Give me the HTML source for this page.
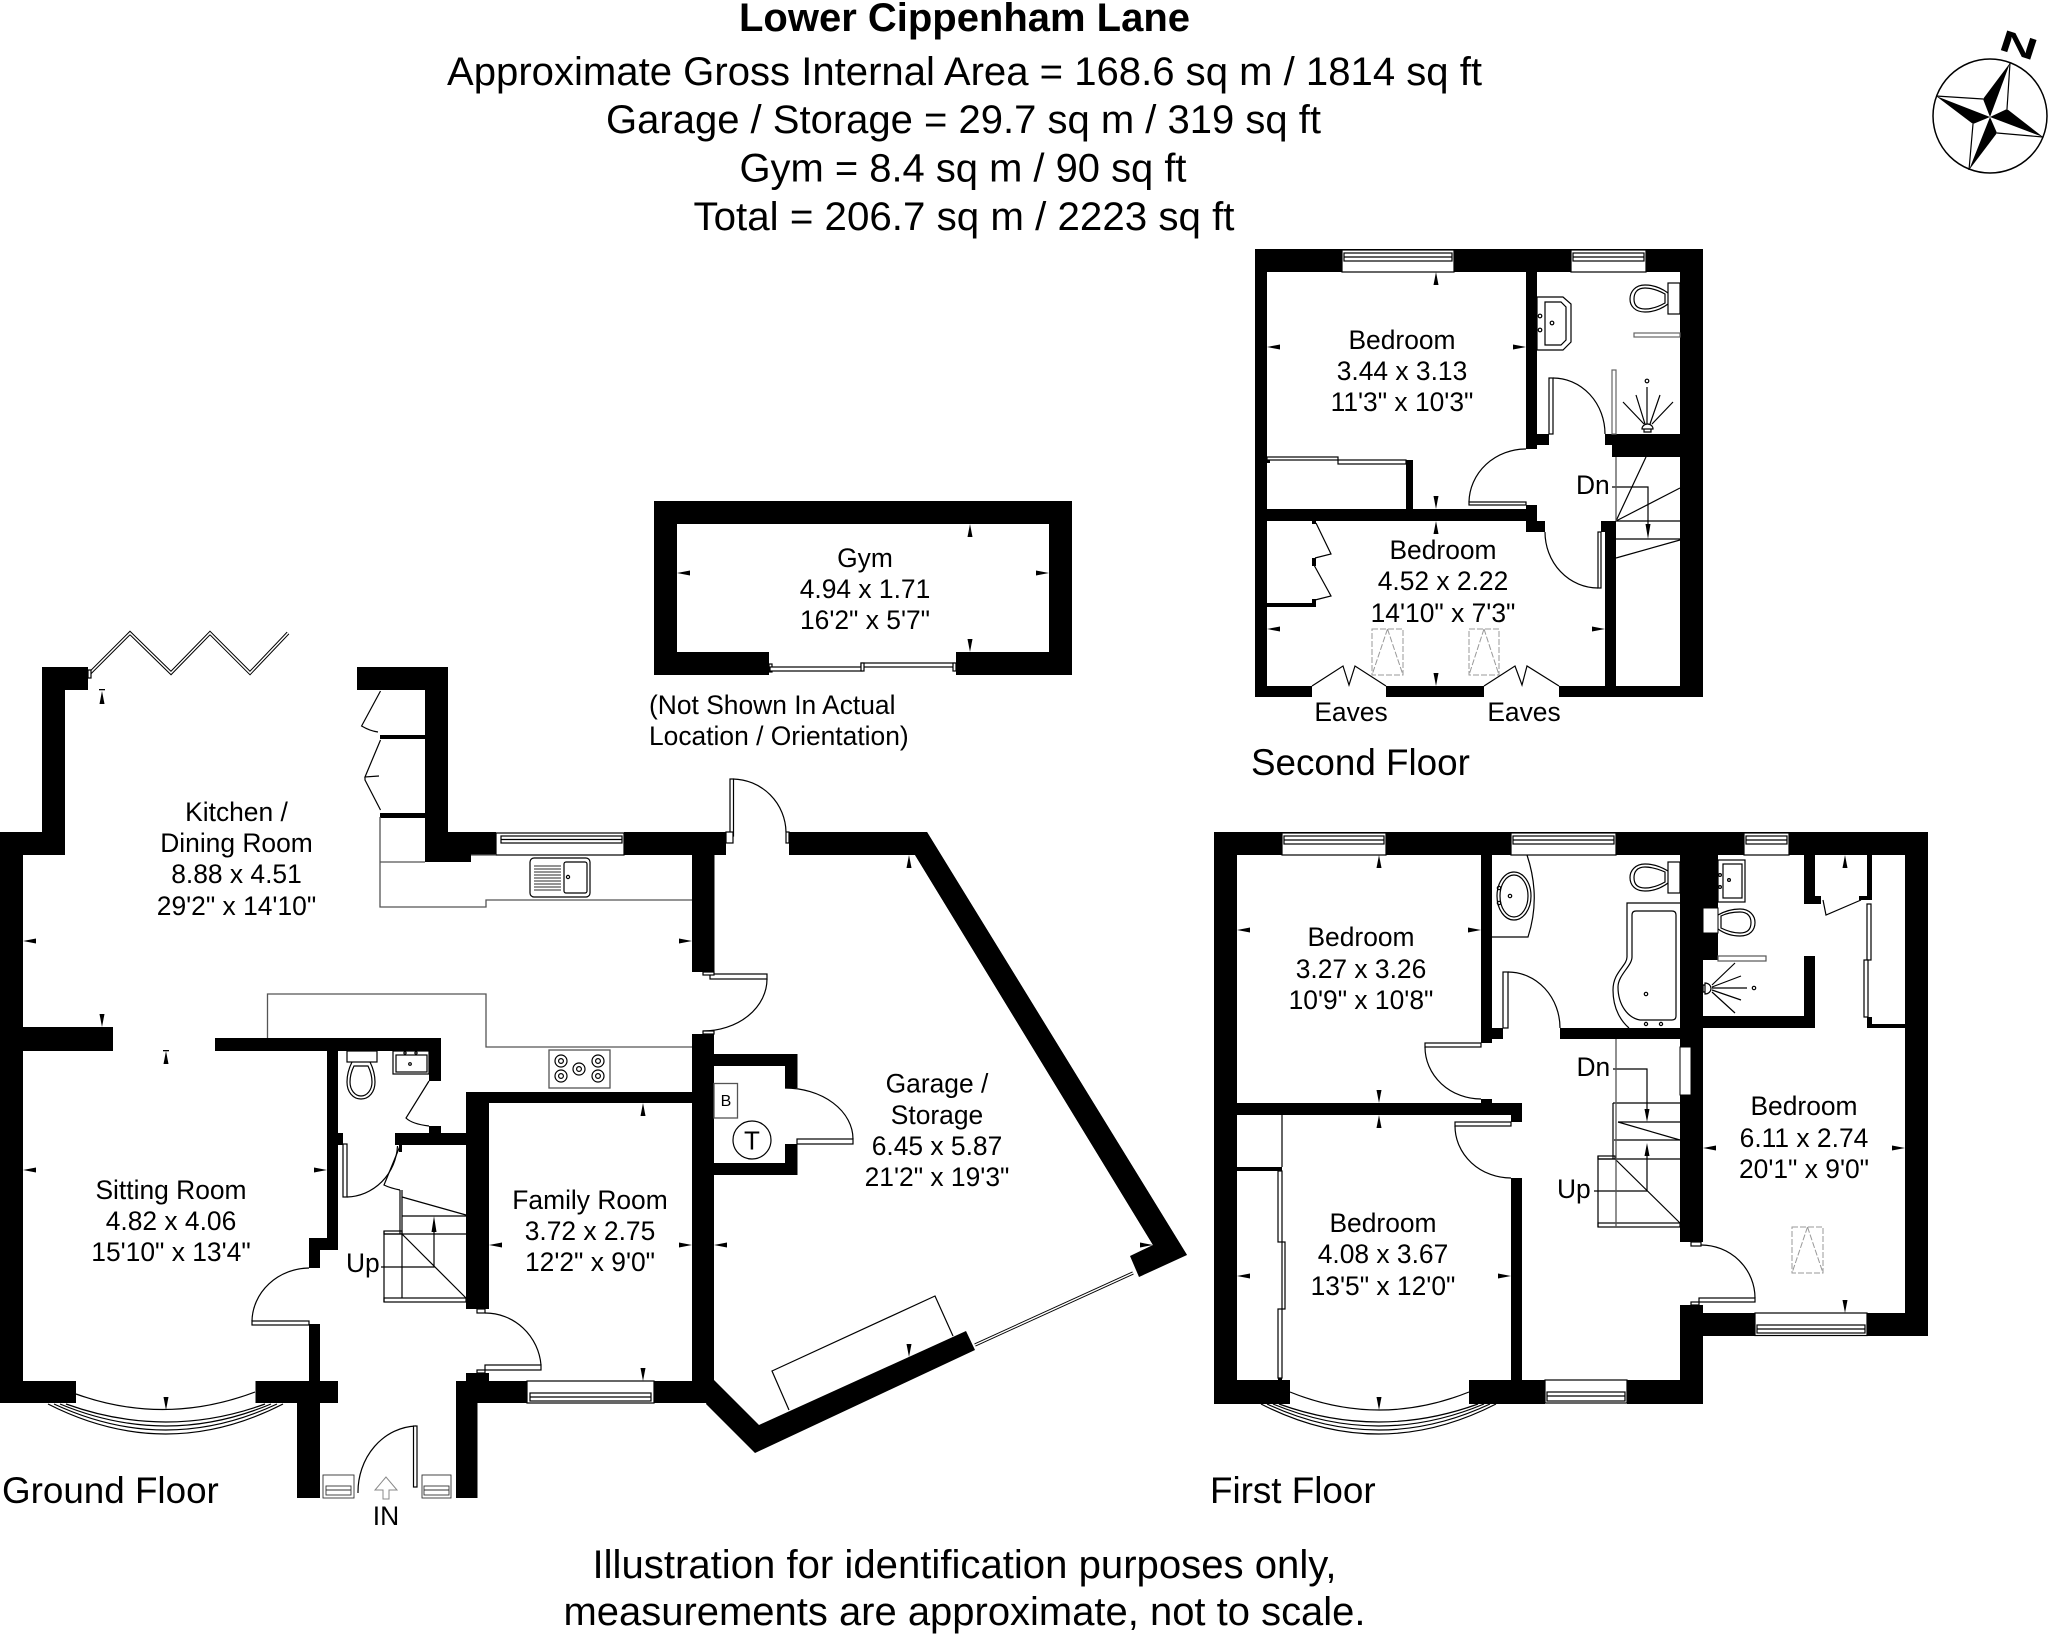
<!DOCTYPE html>
<html><head><meta charset="utf-8"><title>Lower Cippenham Lane</title>
<style>
html,body{margin:0;padding:0;background:#fff}
svg{display:block}
text{font-family:"Liberation Sans",Arial,sans-serif;fill:#000}
.l{font-size:26.4px;text-anchor:middle}
.s{font-size:26.4px}
.h{font-size:40px;text-anchor:middle}
.f{font-size:36.8px}
.t{fill:none;stroke:#000;stroke-width:1.2}
.g{fill:none;stroke:#555;stroke-width:1.3}
.d{fill:#fff;stroke:#000;stroke-width:1.2}
.sk{fill:none;stroke:#999;stroke-width:1;stroke-dasharray:6 2}
</style></head><body>
<svg xmlns="http://www.w3.org/2000/svg" width="2048" height="1635" viewBox="0 0 2048 1635">
<defs>
<polygon id="au" points="0,0 -2.5,13 2.5,13"/>
<polygon id="ad" points="0,0 -2.5,-13 2.5,-13"/>
<polygon id="al" points="0,0 13,-2.5 13,2.5"/>
<polygon id="ar" points="0,0 -13,-2.5 -13,2.5"/>
</defs>
<rect width="2048" height="1635" fill="#fff"/>

<!-- Header -->
<text x="964.5" y="31" class="h" font-weight="bold" textLength="451" lengthAdjust="spacingAndGlyphs">Lower Cippenham Lane</text>
<text x="964.5" y="85" class="h" textLength="1035" lengthAdjust="spacingAndGlyphs">Approximate Gross Internal Area = 168.6 sq m / 1814 sq ft</text>
<text x="963.5" y="133" class="h" textLength="715" lengthAdjust="spacingAndGlyphs">Garage / Storage = 29.7 sq m / 319 sq ft</text>
<text x="963" y="181.5" class="h" textLength="447" lengthAdjust="spacingAndGlyphs">Gym = 8.4 sq m / 90 sq ft</text>
<text x="964" y="230" class="h" textLength="541" lengthAdjust="spacingAndGlyphs">Total = 206.7 sq m / 2223 sq ft</text>

<!-- Compass -->
<circle cx="1990" cy="116" r="57" fill="none" stroke="#000" stroke-width="1.5"/>
<g fill="none" stroke="#000" stroke-width="1.2">
<polyline points="2010,63 2007,109"/><polyline points="2043,137 1997,133"/><polyline points="1969,170 1973,124"/><polyline points="1936,96 1983,99"/>
</g>
<polygon points="2010,63 1983,99 1990,117"/><polygon points="2043,137 2007,109 1990,117"/><polygon points="1969,170 1997,133 1990,117"/><polygon points="1936,96 1973,124 1990,117"/>
<text transform="translate(2019 45) rotate(18) scale(1.75 1) translate(-11 10.5)" font-size="30" font-weight="bold">N</text>

<!-- WALLS -->
<g fill="#000">
<!-- Ground -->
<rect x="0" y="832" width="23" height="571"/><rect x="0" y="832" width="65" height="23"/><rect x="42" y="667" width="23" height="188"/><rect x="42" y="667" width="46" height="23"/>
<rect x="357" y="667" width="91" height="23"/><rect x="425" y="667" width="23" height="195"/><rect x="425" y="832" width="71" height="23"/><rect x="425" y="855" width="46" height="7"/>
<rect x="624" y="832" width="102" height="23"/><rect x="692" y="832" width="22.5" height="140"/>
<rect x="380" y="735" width="45" height="4"/><rect x="380" y="813" width="45" height="5"/>
<rect x="0" y="1027" width="113" height="24"/><rect x="215" y="1038" width="226" height="13"/><rect x="429" y="1038" width="12" height="43"/>
<rect x="327" y="1038" width="11" height="212"/><rect x="309" y="1238" width="29" height="12"/><rect x="309" y="1238" width="11" height="30"/>
<rect x="331" y="1133" width="12" height="12"/><rect x="395" y="1133" width="71" height="12"/><rect x="429" y="1126" width="12" height="8"/>
<rect x="466" y="1092" width="23" height="217"/><rect x="466" y="1092" width="226" height="11"/><rect x="466" y="1373" width="23" height="8"/>
<rect x="692" y="1034" width="22" height="350"/>
<rect x="309" y="1324" width="11" height="57"/>
<rect x="0" y="1381" width="76" height="22"/><rect x="255.5" y="1381" width="82.5" height="22"/><rect x="297" y="1381" width="23" height="117"/>
<rect x="456" y="1381" width="71" height="22"/><rect x="456" y="1381" width="21.5" height="117"/><rect x="654" y="1381" width="60" height="22"/>
<!-- Cupboard -->
<rect x="714" y="1054" width="83.5" height="12"/><rect x="785" y="1054" width="12.5" height="34"/><rect x="785" y="1144" width="12.5" height="31"/><rect x="714" y="1163" width="83.5" height="12"/>
<!-- Garage -->
<rect x="789" y="832" width="138" height="23"/>
<polygon points="915,855 927,832 1187,1255 1139,1277 1130,1256 1153,1245"/>
<polygon points="915,855 927,832 1187,1255 1153,1245"/>
<polygon points="975,1350 966,1331 759,1425 714,1380 706,1404 755,1453"/>
<!-- Gym -->
<rect x="654" y="501" width="418" height="23"/><rect x="654" y="501" width="23" height="174"/><rect x="1049" y="501" width="23" height="174"/>
<rect x="654" y="652" width="115" height="23"/><rect x="956" y="652" width="116" height="23"/>
<!-- Second -->
<rect x="1255" y="249" width="448" height="23"/><rect x="1255" y="249" width="12" height="448"/><rect x="1680" y="249" width="23" height="448"/>
<rect x="1255" y="686" width="57" height="11"/><rect x="1386" y="686" width="98" height="11"/><rect x="1559" y="686" width="144" height="11"/>
<rect x="1526" y="272" width="11" height="177"/><rect x="1537" y="434" width="12" height="11"/><rect x="1605" y="434" width="75" height="11"/><rect x="1612" y="445" width="68" height="12"/>
<rect x="1267" y="509" width="270" height="12"/><rect x="1526" y="505" width="11" height="16"/><rect x="1526" y="521" width="19" height="11"/>
<rect x="1601" y="521" width="15" height="11"/><rect x="1605" y="521" width="11" height="165"/>
<rect x="1406" y="460" width="7" height="49"/><rect x="1267" y="603" width="48" height="4"/><rect x="1312" y="599" width="4" height="8"/><rect x="1312" y="558" width="4" height="8"/><rect x="1312" y="521" width="4" height="3"/><rect x="1267" y="460" width="3" height="3"/>
<!-- First -->
<rect x="1214" y="832" width="714" height="23"/><rect x="1214" y="832" width="23" height="572"/><rect x="1905" y="832" width="23" height="504"/>
<rect x="1703" y="1313" width="225" height="23"/>
<rect x="1214" y="1380" width="76" height="24"/><rect x="1469" y="1380" width="76" height="24"/><rect x="1627" y="1380" width="76" height="24"/>
<rect x="1680" y="1305" width="23" height="99"/><rect x="1680" y="832" width="23" height="410"/><rect x="1680" y="855" width="38" height="105"/>
<rect x="1481" y="855" width="11" height="188"/><rect x="1492" y="1028" width="11" height="11"/><rect x="1560" y="1028" width="120" height="11"/>
<rect x="1237" y="1103" width="285" height="12"/><rect x="1511" y="1103" width="11" height="19"/><rect x="1481" y="1099" width="11" height="4"/>
<rect x="1511" y="1178" width="11" height="202"/><rect x="1237" y="1167" width="45" height="4"/>
<rect x="1703" y="1016" width="112" height="12"/><rect x="1804" y="956" width="11" height="72"/><rect x="1804" y="855" width="11" height="49"/><rect x="1804" y="896" width="17" height="8"/>
<rect x="1867" y="855" width="5" height="45"/><rect x="1859" y="896" width="13" height="4"/><rect x="1867" y="1017" width="5" height="11"/><rect x="1867" y="1024" width="38" height="4"/>
</g>

<!-- WINDOWS -->
<g class="d">
<g fill="#fff" stroke="#000" stroke-width="1.2">
<rect x="496" y="833" width="128" height="22"/><rect x="501" y="836" width="121" height="7"/><line x1="501" y1="839.5" x2="622" y2="839.5"/>
<rect x="1342" y="250" width="112" height="22"/><rect x="1344" y="253" width="108" height="8"/><line x1="1344" y1="257" x2="1452" y2="257"/>
<rect x="1571" y="250" width="75" height="22"/><rect x="1573" y="253" width="71" height="8"/><line x1="1573" y1="257" x2="1644" y2="257"/>
<rect x="1282" y="833" width="104" height="22"/><rect x="1284" y="836" width="100" height="8"/><line x1="1284" y1="840" x2="1384" y2="840"/>
<rect x="1511" y="833" width="105" height="22"/><rect x="1513" y="836" width="101" height="8"/><line x1="1513" y1="840" x2="1614" y2="840"/>
<rect x="1744" y="833" width="45" height="22"/><rect x="1746" y="836" width="41" height="8"/><line x1="1746" y1="840" x2="1787" y2="840"/>
<rect x="527" y="1381" width="127" height="22"/><rect x="530" y="1393" width="121" height="8"/><line x1="530" y1="1397" x2="651" y2="1397"/>
<rect x="1755" y="1313" width="112" height="22.5"/><rect x="1757" y="1325" width="108" height="8"/><line x1="1757" y1="1329" x2="1865" y2="1329"/>
<rect x="1545" y="1380" width="82" height="23"/><rect x="1547" y="1392" width="78" height="9"/><line x1="1547" y1="1396" x2="1625" y2="1396"/>
</g>
<g fill="#fff" stroke="#333" stroke-width="0.9">
<rect x="323" y="1475" width="31" height="23"/><rect x="326" y="1486" width="25" height="9"/><line x1="326" y1="1490" x2="351" y2="1490"/>
<rect x="422" y="1475" width="29" height="23"/><rect x="424" y="1486" width="25" height="9"/><line x1="424" y1="1490" x2="449" y2="1490"/>
</g>
</g>
<rect x="1703" y="908" width="15" height="25" fill="#fff" stroke="#000" stroke-width="1"/>
<rect x="1680" y="1047" width="11" height="48" fill="#fff" stroke="#000" stroke-width="1"/>

<!-- BAY WINDOWS -->
<g class="t">
<path d="M76 1394Q165 1426 255 1392"/>
<path d="M48 1404Q166 1464 283 1404"/><path d="M54 1404Q166 1456 277 1404"/><path d="M60 1404Q166 1448 271 1404"/><path d="M66 1404Q166 1440 265 1404"/>
<path d="M1290 1392Q1379 1428 1469 1392"/>
<path d="M1261 1404Q1379 1464 1496 1404"/><path d="M1267 1404Q1379 1456 1490 1404"/><path d="M1273 1404Q1379 1448 1484 1404"/><path d="M1279 1404Q1379 1440 1478 1404"/>
</g>

<!-- Bi-fold door -->
<polyline points="90,673 130,633 171,673 210,633 250,673 288,633" fill="none" stroke="#000" stroke-width="3.5"/>
<polyline points="90,673 130,633 171,673 210,633 250,673 288,633" fill="none" stroke="#fff" stroke-width="1.5"/>
<rect x="88" y="670" width="3" height="8" class="d"/>

<!-- Ground floor doors -->
<g class="t">
<path d="M416 1426A60 66 0 0 0 358 1493"/>
<path d="M309 1268A58 54 0 0 0 252 1321"/>
<path d="M485 1313A56 57 0 0 1 541 1365"/>
<path d="M347 1197A52 54 0 0 0 397.5 1146"/>
<path d="M733 779A54 54 0 0 1 786 832"/>
<path d="M767 979A64 52 0 0 1 703 1031"/>
<path d="M785 1088A68 51 0 0 1 853 1139"/>
<path d="M429 1081L406 1118Q412 1124 429 1126"/>
<path d="M400 1146L384 1185Q390 1188 400 1190"/>
<path d="M380.5 691L361.6 726Q370 731 378 732"/>
<path d="M380.5 740L365 777L379 776M365 777L365 780L380.5 810"/>
</g>
<g class="d">
<rect x="413.5" y="1426" width="3.5" height="61"/>
<rect x="252" y="1321" width="57" height="4"/>
<rect x="485" y="1365" width="56" height="5"/><rect x="477" y="1370" width="8" height="3"/><rect x="477" y="1309" width="8" height="4"/>
<rect x="343" y="1144" width="4" height="53"/>
<rect x="730" y="779" width="3.5" height="57"/><rect x="726" y="832" width="7" height="11"/><rect x="786" y="832" width="3" height="11"/>
<rect x="710" y="974" width="57" height="5"/><rect x="703" y="972" width="11" height="3"/><rect x="703" y="1031" width="11" height="3"/>
<rect x="797" y="1139" width="56" height="5"/>
<rect x="769" y="664" width="3" height="8"/><rect x="770" y="667" width="92" height="4"/><rect x="861" y="663" width="94" height="4"/><rect x="861" y="663" width="3" height="8"/><rect x="953" y="663" width="3" height="8"/>
</g>
<rect x="399" y="1145" width="3" height="7"/>

<!-- Garage sliding door + storage -->
<polyline points="975,1345 1133,1273" fill="none" stroke="#000" stroke-width="3.2"/>
<polyline points="975,1345 1133,1273" fill="none" stroke="#fff" stroke-width="1.4"/>
<polyline points="789,1410 772,1371 935,1296 953,1336" class="t"/>

<!-- B / T -->
<rect x="714" y="1083.5" width="23.5" height="34.5" class="g" stroke-width="1"/>
<text x="726" y="1106" font-size="16" text-anchor="middle">B</text>
<circle cx="752" cy="1140" r="19" class="t"/>
<text x="752" y="1149.5" font-size="26" text-anchor="middle">T</text>

<!-- Kitchen counters -->
<g class="g">
<polyline points="380,817 380,907 486,907 486,900 692,900"/>
<line x1="380" y1="862" x2="425" y2="862"/>
<line x1="471" y1="855" x2="496" y2="855"/>
<polyline points="267.5,1038 267.5,994 486,994 486,1047 692,1047"/>
<rect x="549" y="1050" width="61" height="38"/>
</g>
<rect x="530" y="858" width="60" height="39" rx="4" class="t"/>
<rect x="564" y="862" width="23" height="31" rx="2" class="t"/>
<path d="M534 866H561M534 869H561M534 872H561M534 875H561M534 878H561M534 881H561M534 884H561M534 887H561M534 890H561" class="g" stroke-width="1"/>
<circle cx="568" cy="877" r="1.6" class="t"/>
<g class="t">
<circle cx="561" cy="1061" r="6"/><circle cx="561" cy="1061" r="2.4"/>
<circle cx="598" cy="1061" r="6"/><circle cx="598" cy="1061" r="2.4"/>
<circle cx="561" cy="1076" r="6"/><circle cx="561" cy="1076" r="2.4"/>
<circle cx="598" cy="1076" r="6"/><circle cx="598" cy="1076" r="2.4"/>
<circle cx="579" cy="1069" r="6"/><circle cx="579" cy="1069" r="2.4"/>
<!-- WC -->
<rect x="347" y="1051" width="30" height="11"/>
<path d="M352 1062C348 1070 347 1076 347 1082C347 1092 353 1099 361 1099C369 1099 375 1092 375 1082C375 1076 374 1070 370 1062"/>
<path d="M354 1066C351 1072 350 1077 350 1082C350 1090 355 1096 361 1096C367 1096 372 1090 372 1082C372 1077 371 1072 368 1066Z"/>
<rect x="393" y="1051" width="36" height="23"/>
<rect x="396" y="1055" width="31" height="17"/>
<circle cx="410" cy="1064" r="1.3"/><circle cx="405" cy="1053" r="1.1"/><circle cx="416" cy="1053" r="1.1"/>
</g>

<!-- Ground stairs -->
<g class="t">
<line x1="402" y1="1190" x2="402" y2="1298"/><line x1="400" y1="1190" x2="400" y2="1234"/>
<line x1="402" y1="1197" x2="466" y2="1215"/>
<line x1="402" y1="1216" x2="466" y2="1216"/>
<line x1="384" y1="1234" x2="466" y2="1234"/>
<rect x="384" y="1231" width="18" height="3"/>
<line x1="402" y1="1234" x2="466" y2="1298"/>
<line x1="384" y1="1231" x2="384" y2="1302"/>
<rect x="384" y="1298" width="82" height="4"/>
<path d="M381 1267H434V1222"/>
</g>
<polygon points="434,1216 431.5,1232 436.5,1232"/>

<!-- IN arrow -->
<path d="M386 1477L375 1490H383V1499H389V1490H397Z" fill="#fff" stroke="#888" stroke-width="1"/>

<!-- Second floor details -->
<g class="d">
<rect x="1267" y="457" width="71" height="3"/><rect x="1338" y="460" width="68" height="4"/>
<rect x="1549" y="378" width="4" height="56"/>
<rect x="1469" y="502" width="57" height="3"/>
<rect x="1598" y="532" width="3" height="56"/>
<rect x="1634" y="333" width="46" height="4" style="stroke:#666"/>
<rect x="1612" y="370" width="4" height="64" style="stroke:#666"/>
</g>
<g class="t">
<path d="M1553 378A52 56 0 0 1 1605 434"/>
<path d="M1526 449A57 54 0 0 0 1469 502"/>
<path d="M1545 532A53 56 0 0 0 1598 588"/>
<path d="M1316 523L1331 554L1315 558M1314 565L1331 596L1315 600"/>
<path d="M1312 686L1343 666L1349 685L1355 666L1386 686"/>
<path d="M1484 686L1515 666L1522 685L1527 666L1559 686"/>
<polygon points="1537,297 1563,297 1571,304 1571,342 1563,350 1537,350"/>
<polygon points="1545,302 1561,302 1566,307 1566,340 1561,345 1545,345"/>
<circle cx="1552" cy="323" r="1.8"/><circle cx="1540" cy="316" r="1.8"/><circle cx="1540" cy="330" r="1.8"/>
<rect x="1668" y="283" width="12" height="31"/>
<path d="M1668 293C1660 287 1652 285 1645 285C1635 285 1630 292 1630 299C1630 306 1635 312 1645 312C1652 312 1660 310 1668 304"/>
<path d="M1665 294C1658 290 1652 288 1645 288C1637 288 1634 293 1634 299C1634 305 1637 309 1645 309C1652 309 1658 307 1665 303Z"/>
<path d="M1623 402L1644 424M1636 395L1645 424M1647 387V424M1660 395L1650 424M1673 402L1652 424"/>
<path d="M1642 429A5.5 5 0 0 1 1653 429ZM1644 429V432H1651V429"/>
<circle cx="1647" cy="381" r="1.8"/>
<line x1="1616" y1="521" x2="1646" y2="457"/><line x1="1616" y1="521" x2="1680" y2="488"/>
<line x1="1616" y1="521" x2="1680" y2="521"/><line x1="1616" y1="539" x2="1680" y2="539"/>
<line x1="1616" y1="558" x2="1680" y2="540"/>
<path d="M1612 487H1648V530"/>
</g>
<line x1="1616" y1="457" x2="1616" y2="521" class="g"/>
<polygon points="1648,539 1645.5,524 1650.5,524"/>
<g class="sk">
<rect x="1372" y="629" width="31" height="46"/><path d="M1387.5 629L1372 675M1387.5 629L1403 675"/>
<rect x="1469" y="629" width="30" height="46"/><path d="M1484 629L1469 675M1484 629L1499 675"/>
<rect x="1792" y="1227" width="31" height="46"/><path d="M1807.5 1227L1792 1273M1807.5 1227L1823 1273"/>
</g>

<!-- First floor details -->
<g class="d">
<rect x="1503" y="972" width="5" height="56"/>
<rect x="1425" y="1043" width="56" height="4"/>
<rect x="1455" y="1122" width="56" height="4"/>
<rect x="1699" y="1298" width="56" height="4"/><rect x="1691" y="1302" width="8" height="3"/><rect x="1691" y="1242" width="10" height="4"/>
<rect x="1278" y="1171" width="4" height="71"/><rect x="1282" y="1242" width="3" height="67"/><rect x="1278" y="1309" width="4" height="69"/>
<rect x="1867" y="904" width="4" height="56"/><rect x="1864" y="960" width="4" height="57"/>
<rect x="1718" y="956" width="48" height="5" style="stroke:#555"/>
</g>
<rect x="1278" y="1378" width="4" height="3"/>
<g class="t">
<path d="M1508 972A52 56 0 0 1 1560 1028"/>
<path d="M1425 1047A56 52 0 0 0 1481 1099"/>
<path d="M1455 1126A56 52 0 0 0 1511 1178"/>
<path d="M1701 1245A54 53 0 0 1 1755 1298"/>
<line x1="1282" y1="1115" x2="1282" y2="1167"/>
<path d="M1527 855Q1541 897 1528 937H1492"/>
<ellipse cx="1514" cy="896" rx="17" ry="24"/><ellipse cx="1514" cy="896" rx="14" ry="21"/>
<circle cx="1510" cy="896" r="1.7"/><circle cx="1499" cy="888" r="1.7"/><circle cx="1499" cy="903" r="1.7"/>
<rect x="1668" y="862" width="12" height="31"/>
<path d="M1668 871C1660 866 1652 864 1645 864C1635 864 1630 871 1630 877.5C1630 885 1635 891 1645 891C1652 891 1660 889 1668 883"/>
<path d="M1665 872C1658 869 1652 867 1645 867C1637 867 1634 872 1634 877.5C1634 884 1637 888 1645 888C1652 888 1658 886 1665 882Z"/>
<path d="M1636 911H1672Q1676 911 1676 915V1016Q1676 1020 1672 1020H1640C1628 1018 1618 1005 1618 987C1618 975 1632 966 1632 957V915Q1632 911 1636 911Z"/>
<path d="M1680 903H1627V957C1627 966 1613 972 1613 990C1613 1010 1622 1022 1629 1028"/>
<circle cx="1646" cy="994" r="1.7"/><circle cx="1646" cy="1024" r="1.6"/><circle cx="1661" cy="1024" r="1.6"/>
<rect x="1718" y="860" width="27" height="42"/><rect x="1723" y="864" width="19" height="34"/>
<circle cx="1729" cy="880" r="1.4"/><circle cx="1720" cy="875" r="1.4"/><circle cx="1720" cy="887" r="1.4"/>
<path d="M1718 915C1725 911 1733 909 1740 909C1750 909 1755 916 1755 922.5C1755 930 1750 936 1740 936C1733 936 1725 934 1718 929"/>
<path d="M1721 916C1727 913 1733 912 1740 912C1748 912 1751 917 1751 922.5C1751 929 1748 933 1740 933C1733 933 1727 931 1721 928Z"/>
<path d="M1705 983A6 5.5 0 0 1 1705 994ZM1705 985H1703V992H1705"/>
<path d="M1735 963L1712 985M1741 976L1712 987M1747 988H1712M1741 1000L1712 990M1735 1013L1712 992"/>
<circle cx="1754" cy="988" r="1.7"/>
<path d="M1823 900L1826 915L1861 900"/>
<line x1="1613" y1="1103" x2="1680" y2="1103"/>
<line x1="1618" y1="1122" x2="1680" y2="1122"/>
<line x1="1618" y1="1122" x2="1680" y2="1140"/>
<line x1="1614" y1="1140" x2="1680" y2="1140"/>
<line x1="1598" y1="1159" x2="1680" y2="1159"/>
<rect x="1598" y="1156" width="17" height="3"/>
<line x1="1615" y1="1159" x2="1680" y2="1223"/>
<line x1="1598" y1="1156" x2="1598" y2="1227"/>
<rect x="1598" y="1223" width="82" height="4"/>
<path d="M1594 1191H1647V1150"/>
<path d="M1613 1069H1647V1114"/>
<line x1="1613" y1="1103" x2="1613" y2="1159"/>
</g>
<line x1="1616" y1="1039" x2="1616" y2="1227" class="g"/>
<polygon points="1647,1143 1644.5,1156 1649.5,1156"/>
<polygon points="1647,1122 1644.5,1109 1649.5,1109"/>

<!-- Dimension markers -->
<g fill="#000">
<use href="#au" x="102" y="691"/><rect x="99" y="689" width="6" height="1.3"/>
<use href="#al" x="23" y="941"/><use href="#ar" x="692" y="941"/><use href="#ad" x="102" y="1027"/>
<use href="#au" x="166" y="1051"/><rect x="163" y="1050" width="6" height="1.3"/>
<use href="#al" x="23" y="1170"/><use href="#ar" x="327" y="1170"/><use href="#ad" x="166" y="1410"/>
<use href="#au" x="643" y="1103"/><use href="#al" x="489" y="1245"/><use href="#ar" x="692" y="1245"/><use href="#ad" x="643" y="1381"/>
<use href="#au" x="909" y="855"/><use href="#al" x="714" y="1245"/><use href="#ar" x="1153" y="1245"/><use href="#ad" x="909" y="1357"/>
<use href="#au" x="970" y="524"/><use href="#al" x="677" y="573"/><use href="#ar" x="1049" y="573"/><use href="#ad" x="970" y="652"/>
<use href="#au" x="1436" y="272"/><use href="#al" x="1267" y="347"/><use href="#ar" x="1526" y="347"/><use href="#ad" x="1436" y="509"/>
<use href="#au" x="1436" y="521"/><use href="#al" x="1267" y="629"/><use href="#ar" x="1605" y="629"/><use href="#ad" x="1436" y="686"/>
<use href="#au" x="1379" y="855"/><use href="#al" x="1237" y="930"/><use href="#ar" x="1481" y="930"/><use href="#ad" x="1379" y="1103"/>
<use href="#au" x="1379" y="1115"/><use href="#al" x="1237" y="1276"/><use href="#ar" x="1511" y="1276"/><use href="#ad" x="1379" y="1410"/>
<use href="#au" x="1845" y="855"/><use href="#al" x="1703" y="1148"/><use href="#ar" x="1905" y="1148"/><use href="#ad" x="1845" y="1313"/>
</g>

<!-- LABELS -->
<text class="l" x="236.5" y="821">Kitchen /</text><text class="l" x="236.5" y="852">Dining Room</text><text class="l" x="236.5" y="883">8.88 x 4.51</text><text class="l" x="236.5" y="915">29'2" x 14'10"</text>
<text class="l" x="171" y="1199">Sitting Room</text><text class="l" x="171" y="1230">4.82 x 4.06</text><text class="l" x="171" y="1261">15'10" x 13'4"</text>
<text class="l" x="590" y="1209">Family Room</text><text class="l" x="590" y="1240">3.72 x 2.75</text><text class="l" x="590" y="1271">12'2" x 9'0"</text>
<text class="l" x="937" y="1092.5">Garage /</text><text class="l" x="937" y="1124">Storage</text><text class="l" x="937" y="1155">6.45 x 5.87</text><text class="l" x="937" y="1186">21'2" x 19'3"</text>
<text class="l" x="865" y="567">Gym</text><text class="l" x="865" y="598">4.94 x 1.71</text><text class="l" x="865" y="629">16'2" x 5'7"</text>
<text class="s" x="649" y="714">(Not Shown In Actual</text><text class="s" x="649" y="745">Location / Orientation)</text>
<text class="l" x="1402" y="349">Bedroom</text><text class="l" x="1402" y="380">3.44 x 3.13</text><text class="l" x="1402" y="411">11'3" x 10'3"</text>
<text class="l" x="1443" y="559">Bedroom</text><text class="l" x="1443" y="590">4.52 x 2.22</text><text class="l" x="1443" y="622">14'10" x 7'3"</text>
<text class="l" x="1351" y="721">Eaves</text><text class="l" x="1524" y="721">Eaves</text>
<text class="s" x="1576" y="494">Dn</text>
<text class="l" x="1361" y="946">Bedroom</text><text class="l" x="1361" y="978">3.27 x 3.26</text><text class="l" x="1361" y="1009">10'9" x 10'8"</text>
<text class="l" x="1383" y="1232">Bedroom</text><text class="l" x="1383" y="1263">4.08 x 3.67</text><text class="l" x="1383" y="1295">13'5" x 12'0"</text>
<text class="l" x="1804" y="1115">Bedroom</text><text class="l" x="1804" y="1147">6.11 x 2.74</text><text class="l" x="1804" y="1178">20'1" x 9'0"</text>
<text class="s" x="1576.5" y="1076">Dn</text><text class="s" x="1557" y="1198">Up</text><text class="s" x="346" y="1272">Up</text>
<text class="l" x="386" y="1525">IN</text>
<text class="f" x="2" y="1503">Ground Floor</text>
<text class="f" x="1210" y="1503">First Floor</text>
<text class="f" x="1251" y="775">Second Floor</text>
<text class="h" x="964.5" y="1578" textLength="744" lengthAdjust="spacingAndGlyphs">Illustration for identification purposes only,</text>
<text class="h" x="964.5" y="1625" textLength="802" lengthAdjust="spacingAndGlyphs">measurements are approximate, not to scale.</text>
</svg>
</body></html>
